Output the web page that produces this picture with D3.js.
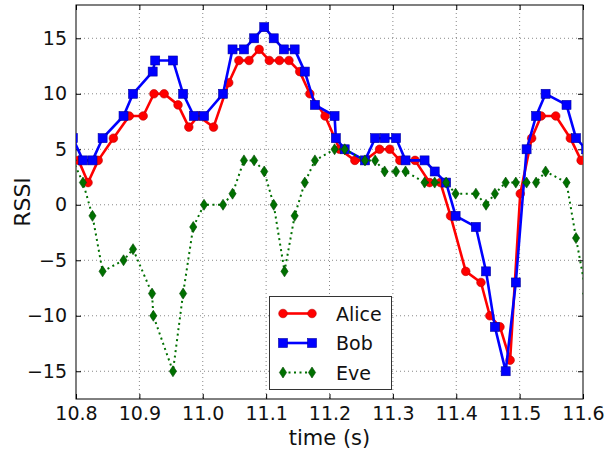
<!DOCTYPE html>
<html><head><meta charset="utf-8">
<script src="https://cdn.jsdelivr.net/npm/d3@7"></script>
<style>body{margin:0;background:#fff}svg{display:block;font-family:"DejaVu Sans",sans-serif}</style>
</head><body><svg id="c" width="609" height="450"></svg>
<script>
const xTicks = [10.8, 10.9, 11.0, 11.1, 11.2, 11.3, 11.4, 11.5, 11.6];
const yTicks = [-15, -10, -5, 0, 5, 10, 15];
const seriesNames = ["Alice", "Bob", "Eve"];

const aliceT = [10.804,10.819,10.835,10.859,10.884,10.906,10.923,10.939,10.961,10.978,10.993,11.017,11.041,11.057,11.073,11.089,11.105,11.121,11.136,11.153,11.169,11.193,11.216,11.240,11.256,11.279,11.295,11.311,11.335,11.358,11.375,11.391,11.415,11.439,11.453,11.469,11.485,11.501,11.519,11.534,11.557,11.580,11.597];
const aliceV = [4,2,4,6,8,8,10,10,9,7,8,7,11,13,13,14,13,13,13,12,10,8,5,4,4,5,5,4,4,2,2,-1,-6,-7,-10,-11,-14,1,6,8,8,6,4];

const bobT = [10.795,10.811,10.826,10.842,10.875,10.890,10.921,10.925,10.953,10.969,10.986,11.002,11.032,11.047,11.065,11.081,11.097,11.112,11.128,11.145,11.161,11.177,11.208,11.210,11.224,11.256,11.272,11.287,11.305,11.320,11.350,11.366,11.384,11.399,11.431,11.447,11.461,11.478,11.494,11.511,11.526,11.541,11.574,11.589,11.605];
const bobV = [6,4,4,6,8,10,12,13,13,10,8,8,10,14,14,15,16,15,14,14,12,9,8,6,5,4,6,6,6,4,4,3,2,-1,-2,-6,-11,-15,-7,5,8,10,9,6,5];

const eveT = [10.795,10.811,10.826,10.842,10.875,10.890,10.920,10.922,10.953,10.969,10.985,11.002,11.032,11.047,11.065,11.081,11.097,11.112,11.129,11.145,11.161,11.177,11.208,11.224,11.256,11.272,11.287,11.305,11.320,11.350,11.366,11.384,11.399,11.431,11.447,11.461,11.478,11.494,11.511,11.526,11.541,11.574,11.589,11.605];
const eveV = [4,2,-1,-6,-5,-4,-8,-10,-15,-8,-2,0,0,1,4,4,3,0,-6,-1,2,4,5,5,4,4,3,3,3,2,2,2,1,1,0,1,2,2,2,2,3,2,-3,-8];

const svg = d3.select("#c");
const L = 76, R = 583, T = 5, B = 399;
const x = d3.scaleLinear().domain([10.8, 11.6]).range([L, R]);
const y = d3.scaleLinear().domain([-17.5, 18]).range([B, T]);

svg.append("defs").append("clipPath").attr("id","clip")
  .append("rect").attr("x",L).attr("y",T).attr("width",R-L).attr("height",B-T);

// grid
const g = svg.append("g");
g.selectAll(".gx").data(xTicks.slice(1,-1)).enter().append("line")
  .attr("x1",d=>x(d)).attr("x2",d=>x(d)).attr("y1",T).attr("y2",B)
  .attr("stroke","#555").attr("stroke-width",0.7).attr("stroke-dasharray","1,3");
g.selectAll(".gy").data(yTicks).enter().append("line")
  .attr("y1",d=>y(d)).attr("y2",d=>y(d)).attr("x1",L).attr("x2",R)
  .attr("stroke","#555").attr("stroke-width",0.7).attr("stroke-dasharray","1,3");

// axes
const xa = svg.append("g").attr("transform",`translate(0,${B})`)
  .call(d3.axisBottom(x).tickValues(xTicks).tickFormat(d3.format(".1f")).tickSizeInner(-5).tickSizeOuter(0).tickPadding(8));
const xt = svg.append("g").attr("transform",`translate(0,${T})`)
  .call(d3.axisTop(x).tickValues(xTicks).tickFormat("").tickSizeInner(-5).tickSizeOuter(0));
const ya = svg.append("g").attr("transform",`translate(${L},0)`)
  .call(d3.axisLeft(y).tickValues(yTicks).tickSizeInner(-5).tickSizeOuter(0).tickPadding(9));
const yr = svg.append("g").attr("transform",`translate(${R},0)`)
  .call(d3.axisRight(y).tickValues(yTicks).tickFormat("").tickSizeInner(-5).tickSizeOuter(0));
[xa,xt,ya,yr].forEach(a=>{a.select(".domain").remove(); a.selectAll("line").attr("stroke","#000");});
xa.selectAll("text").attr("font-size",19).attr("fill","#111").attr("font-family","DejaVu Sans");
ya.selectAll("text").attr("font-size",19).attr("fill","#111").attr("font-family","DejaVu Sans")
  .text(d=>d<0?"\u2212"+Math.abs(d):d);

svg.append("rect").attr("x",L).attr("y",T).attr("width",R-L).attr("height",B-T)
  .attr("fill","none").attr("stroke","#000").attr("stroke-width",1);

const line = d3.line().x(d=>x(d[0])).y(d=>y(d[1]));
const plot = svg.append("g").attr("clip-path","url(#clip)");

const series = [
  {name:"Alice", t:aliceT, v:aliceV, color:"#ff0000", dash:null, marker:"circle"},
  {name:"Bob", t:bobT, v:bobV, color:"#0000ff", dash:null, marker:"square"},
  {name:"Eve", t:eveT, v:eveV, color:"#007000", dash:"2,3.5", marker:"diamond"}
];

function drawMarker(sel, type, color){
  if(type==="circle") sel.append("circle").attr("r",4.3).attr("fill",color).attr("stroke","#c00000").attr("stroke-width",0.6);
  else if(type==="square") sel.append("rect").attr("x",-4.5).attr("y",-4.5).attr("width",9).attr("height",9).attr("fill",color).attr("stroke","#0000a0").attr("stroke-width",0.6);
  else sel.append("path").attr("d","M0,-5.5L3.6,0L0,5.5L-3.6,0Z").attr("fill",color).attr("stroke","#004800").attr("stroke-width",0.6);
}

series.forEach(s=>{
  const data = s.t.map((t,i)=>[t,s.v[i]]);
  plot.append("path").datum(data).attr("d",line).attr("fill","none")
    .attr("stroke",s.color).attr("stroke-width",s.marker==="diamond"?2:2.6)
    .attr("stroke-dasharray",s.dash).attr("stroke-linejoin","round");
  plot.selectAll(null).data(data).enter().append("g")
    .attr("transform",d=>`translate(${x(d[0])},${y(d[1])})`)
    .each(function(){drawMarker(d3.select(this), s.marker, s.color);});
});

// legend
const lg = svg.append("g");
lg.append("rect").attr("x",269.5).attr("y",296.5).attr("width",122).attr("height",93)
  .attr("fill","#fff").attr("stroke","#333").attr("stroke-width",1);
series.forEach((s,i)=>{
  const yy = 313.5 + i*29.5;
  lg.append("line").attr("x1",283).attr("x2",312).attr("y1",yy).attr("y2",yy)
    .attr("stroke",s.color).attr("stroke-width",s.marker==="diamond"?2:2.6).attr("stroke-dasharray",s.dash);
  [283,312].forEach(px=>{
    const m = lg.append("g").attr("transform",`translate(${px},${yy})`);
    drawMarker(m, s.marker, s.color);
  });
  lg.append("text").attr("x",336).attr("y",yy+7).attr("font-size",19).attr("fill","#111").text(seriesNames[i]);
});

// axis titles
svg.append("text").attr("x",(L+R)/2).attr("y",445).attr("text-anchor","middle")
  .attr("font-size",21).attr("fill","#111").text("time (s)");
svg.append("text").attr("transform","translate(30,202) rotate(-90)").attr("text-anchor","middle")
  .attr("font-size",22).attr("fill","#111").text("RSSI");
</script></body></html>
